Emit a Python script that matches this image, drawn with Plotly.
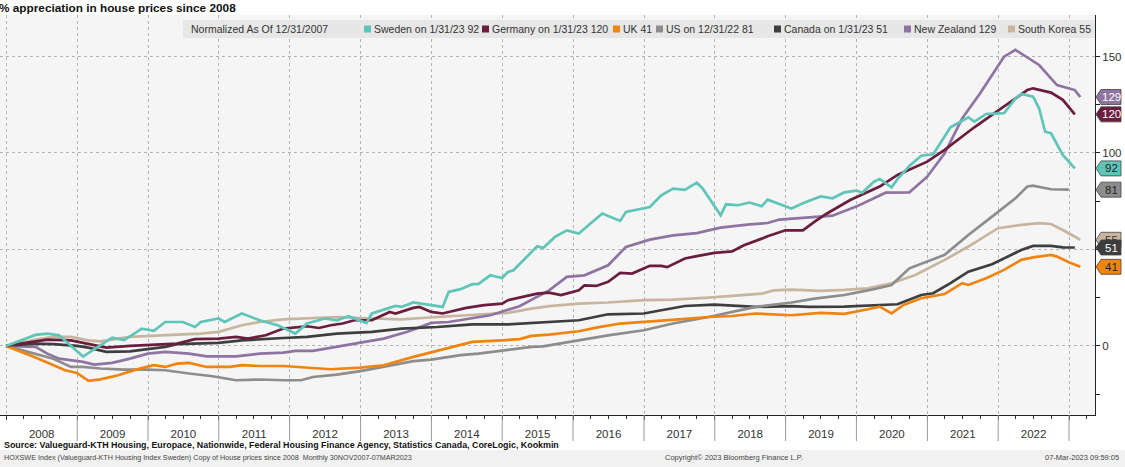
import pandas as pd
import plotly.graph_objects as go

# ---------------- data ----------------
sweden = [("2007-12",0),("2008-05",5.7),("2008-07",6.4),("2008-09",5.5),("2009-01",-5.5),("2009-06",4.3),
          ("2009-08",3.0),("2009-11",9.0),("2010-01",7.8),("2010-03",12.4),("2010-06",12.4),("2010-08",9.8),
          ("2010-09",12.4),("2010-12",14.2),("2011-01",12.4),("2011-04",16.8),("2011-07",13.3),("2011-10",10.7),
          ("2012-01",6.4),("2012-03",11.6),("2012-06",14.2),("2012-08",13.3),("2012-10",15.4),("2013-01",11.9),
          ("2013-02",16.8),("2013-06",20.7),("2013-07",20.2),("2013-09",22.5),("2014-02",20.2),("2014-03",28.0),
          ("2014-05",29.4),("2014-07",32.0),("2014-08",32.0),("2014-10",36.6),("2014-12",35.2),("2015-01",38.3),
          ("2015-02",39.2),("2015-04",45.3),("2015-06",51.6),("2015-07",50.8),("2015-09",56.5),("2015-11",59.9),
          ("2016-01",58.2),("2016-03",63.4),("2016-05",68.6),("2016-08",64.8),("2016-09",69.4),("2017-01",72.0),
          ("2017-03",78.0),("2017-05",81.5),("2017-07",80.9),("2017-09",84.6),("2017-10",81.5),("2018-01",67.7),
          ("2018-02",73.4),("2018-04",72.9),("2018-06",74.3),("2018-08",72.4),("2018-09",75.8),("2019-01",71.2),
          ("2019-03",73.9),("2019-06",77.5),("2019-08",76.5),("2019-10",79.6),("2019-12",80.5),("2020-01",79.4),
          ("2020-03",85.1),("2020-04",86.5),("2020-06",82.2),("2020-07",86.4),("2020-09",93.3),("2020-11",98.6),
          ("2021-01",99.3),("2021-04",113.3),("2021-07",118.5),("2021-08",116.2),("2021-10",120.2),("2022-01",120.6),
          ("2022-03",128.3),("2022-04",130.6),("2022-06",129.2),("2022-07",123.1),("2022-08",111.0),("2022-09",110.2),
          ("2022-11",99.0),("2023-01",92)]
germany = [("2007-12",0),("2008-05",2.4),("2008-07",3.3),("2008-11",2.9),("2009-02",1.2),("2009-05",-0.9),
           ("2009-09",0),("2010-01",0.7),("2010-05",1.2),("2010-08",3.5),("2010-12",3.8),("2011-03",4.7),
           ("2011-05",3.8),("2011-08",5.5),("2011-09",6.7),("2011-11",9.0),("2012-03",10.2),("2012-05",9.3),
           ("2012-07",10.7),("2012-09",11.6),("2012-11",13.3),("2013-02",13.3),("2013-05",17.6),("2013-06",16.8),
           ("2013-09",19.7),("2013-10",20.2),("2013-12",17.6),("2014-02",16.8),("2014-03",17.6),("2014-06",19.7),
           ("2014-09",21.1),("2014-12",21.9),("2015-01",23.7),("2015-04",25.7),("2015-06",27.1),("2015-08",27.6),
           ("2015-10",26.3),("2016-01",28.8),("2016-02",31.4),("2016-04",31.1),("2016-06",33.2),("2016-08",37.8),
           ("2016-10",37.5),("2017-01",41.5),("2017-03",41.5),("2017-04",40.8),("2017-07",45.3),("2017-09",46.5),
           ("2017-12",48.2),("2018-03",49.0),("2018-05",52.2),("2018-08",55.6),("2018-09",56.8),("2018-12",59.9),
           ("2019-03",59.9),("2019-05",64.4),("2019-07",68.5),("2019-11",75.6),("2020-04",82.6),("2020-07",88.6),
           ("2020-12",95.5),("2021-03",101.6),("2021-08",113.3),("2021-11",119.7),("2022-03",128.3),("2022-05",132.6),
           ("2022-06",133.5),("2022-09",131.3),("2022-11",127.5),("2023-01",120)]
uk = [("2007-12",0),("2008-05",-6.0),("2008-10",-12.6),("2008-12",-14.0),("2009-02",-18.1),("2009-04",-17.3),
      ("2009-07",-15.2),("2009-10",-12.3),("2010-01",-10.0),("2010-03",-10.9),("2010-05",-9.2),("2010-07",-8.8),
      ("2010-10",-10.9),("2011-02",-10.9),("2011-04",-10.0),("2011-07",-10.4),("2011-11",-10.4),("2012-02",-10.9),
      ("2012-07",-12.1),("2012-12",-11.2),("2013-04",-10.0),("2013-09",-5.7),("2014-01",-2.6),("2014-04",-0.5),
      ("2014-07",2.1),("2014-12",2.9),("2015-03",3.5),("2015-05",5.2),("2015-08",5.9),("2016-01",7.6),
      ("2016-04",9.5),("2016-08",11.6),("2016-12",12.4),("2017-03",13.3),("2017-06",13.8),("2017-11",15.0),
      ("2018-03",15.5),("2018-07",16.8),("2019-01",15.9),("2019-06",17.1),("2019-10",16.6),("2020-02",19.0),
      ("2020-04",20.4),("2020-06",16.9),("2020-08",21.2),("2020-11",24.7),("2021-03",26.9),("2021-06",32.5),
      ("2021-07",31.6),("2021-10",35.1),("2022-01",39.4),("2022-04",44.6),("2022-06",45.9),("2022-09",47.2),
      ("2022-10",46.3),("2022-12",43.4),("2023-02",41)]
us = [("2007-12",0),("2008-05",-4.0),("2008-08",-6.6),("2008-11",-10.9),("2009-01",-10.9),("2009-04",-11.7),
      ("2009-08",-12.3),("2009-12",-12.3),("2010-03",-12.6),("2010-07",-14.3),("2010-11",-15.7),("2011-03",-17.8),
      ("2011-07",-17.4),("2011-11",-17.8),("2012-02",-17.8),("2012-04",-16.1),("2012-08",-14.9),("2012-12",-13.1),
      ("2013-05",-10.4),("2013-09",-7.9),("2013-12",-7.1),("2014-05",-4.8),("2014-08",-4.0),("2015-01",-2.2),
      ("2015-05",-0.5),("2015-07",-0.2),("2016-01",2.9),("2016-06",5.5),("2016-12",8.1),("2017-05",11.6),
      ("2017-11",15.0),("2018-03",17.6),("2018-07",20.2),("2019-01",22.5),("2019-05",24.5),("2019-10",26.4),
      ("2020-03",29.4),("2020-06",31.6),("2020-09",40.2),("2021-03",47.2),("2021-07",57.5),("2021-11",67.0),
      ("2022-03",76.5),("2022-05",82.6),("2022-06",83.1),("2022-09",81.2),("2022-12",81)]
canada = [("2007-12",0),("2008-05",1.2),("2008-08",0.9),("2008-12",0),("2009-02",-0.9),("2009-05",-3.1),
          ("2009-09",-2.8),("2009-11",-1.9),("2010-03",-0.5),("2010-05",0.9),("2010-09",1.2),("2010-12",1.6),
          ("2011-04",2.9),("2011-07",3.5),("2011-11",4.1),("2012-03",4.7),("2012-08",6.4),("2013-02",7.3),
          ("2013-07",9.0),("2014-01",9.8),("2014-07",11.2),("2015-01",11.2),("2015-05",11.9),("2015-08",12.4),
          ("2016-01",13.3),("2016-06",16.4),("2016-12",16.8),("2017-03",18.5),("2017-07",20.7),("2017-12",21.4),
          ("2018-04",20.6),("2018-07",20.2),("2019-01",20.6),("2019-04",20.2),("2019-10",20.4),("2020-04",21.2),
          ("2020-07",21.6),("2020-11",26.4),("2021-01",27.3),("2021-04",32.5),("2021-07",38.5),("2021-11",42.3),
          ("2022-01",45.4),("2022-04",49.7),("2022-06",51.8),("2022-09",51.8),("2022-11",51.1),("2023-01",51)]
new_zealand = [("2007-12",0),("2008-05",-0.5),("2008-07",-4.0),("2008-09",-6.6),("2009-01",-8.3),("2009-03",-9.7),
               ("2009-06",-8.8),("2009-09",-6.6),("2009-12",-4.0),("2010-03",-3.1),("2010-07",-4.0),("2010-10",-5.4),
               ("2011-03",-5.4),("2011-07",-4.0),("2011-11",-3.5),("2012-01",-2.6),("2012-04",-2.6),("2012-08",-0.5),
               ("2013-01",2.1),("2013-04",3.8),("2013-08",7.3),("2013-12",11.9),("2014-03",12.4),("2014-07",14.5),
               ("2014-10",15.9),("2015-03",20.6),("2015-06",25.4),("2015-08",28.8),("2015-11",35.8),("2016-02",36.6),
               ("2016-06",41.8),("2016-09",51.3),("2017-01",55.1),("2017-05",57.3),("2017-09",58.5),("2018-01",61.3),
               ("2018-06",63.0),("2018-09",63.7),("2018-11",65.5),("2019-04",66.5),("2019-06",67.0),("2019-08",67.5),
               ("2019-12",72.2),("2020-05",79.4),("2020-09",79.6),("2020-12",87.7),("2021-03",99.8),("2021-06",118.0),
               ("2021-09",130.9),("2022-01",149.9),("2022-03",153.4),("2022-07",145.6),("2022-10",135.2),
               ("2023-01",132.6),("2023-02",129)]
south_korea = [("2007-12",0),("2008-05",3.3),("2008-08",4.7),("2008-11",4.7),("2009-02",2.9),("2009-04",2.4),
               ("2009-09",4.7),("2010-01",5.5),("2010-05",5.9),("2010-09",6.4),("2010-12",7.3),("2011-04",10.7),
               ("2011-07",12.4),("2011-11",13.8),("2012-03",14.5),("2012-08",15.0),("2013-02",14.2),("2013-07",13.8),
               ("2014-01",15.0),("2014-07",15.9),("2015-01",17.1),("2015-05",19.3),("2015-08",20.6),("2016-01",21.9),
               ("2016-06",22.5),("2016-12",23.7),("2017-05",24.0),("2017-11",25.0),("2018-04",26.3),("2018-08",27.1),
               ("2018-10",28.8),("2019-01",29.2),("2019-06",28.5),("2019-10",29.0),("2020-02",29.9),("2020-06",32.5),
               ("2020-10",36.8),("2021-03",44.6),("2021-07",51.5),("2021-12",61.0),("2022-04",62.7),("2022-07",63.6),
               ("2022-09",63.2),("2022-11",60.1),("2023-02",55)]

series_names = ["Sweden", "Germany", "UK", "US", "Canada", "New Zealand", "South Korea"]
legend_labels = ["Sweden on 1/31/23 92", "Germany on 1/31/23 120", "UK 41", "US on 12/31/22 81",
                 "Canada on 1/31/23 51", "New Zealand 129", "South Korea 55"]
series_data = [sweden, germany, uk, us, canada, new_zealand, south_korea]
colors = ["#5fc5b8", "#6b1d3d", "#f0840f", "#8d8d8d", "#3d3e3e", "#8f73a1", "#c8b5a0"]
tag_text_colors = ["#222222", "#ffffff", "#222222", "#222222", "#ffffff", "#ffffff", "#333333"]
years = list(range(2008, 2024))
y_tick_vals = [0, 50, 100, 150]
y_tick_text = ["0", "", "100", "150"]   # the 50 label is hidden behind the value tags in the reference

title_text = "% appreciation in house prices since 2008"
normalized_text = "Normalized As Of 12/31/2007"
source_text = ("Source: Valueguard-KTH Housing, Europace, Nationwide, Federal Housing Finance Agency, "
               "Statistics Canada, CoreLogic, Kookmin")
index_text = ("HOXSWE Index (Valueguard-KTH Housing Index Sweden) Copy of House prices since 2008  "
              "Monthly 30NOV2007-07MAR2023")
copyright_text = "Copyright\u00a9 2023 Bloomberg Finance L.P."
stamp_text = "07-Mar-2023 09:59:05"

# ---------------- layout geometry (pixels) ----------------
W, H = 1125, 467
PL, PR, PT, PB = 0, 1095, 15, 415
FONT = "Liberation Sans"


def px(xp):
    return (xp - PL) / (PR - PL)


def py(yp):
    return (PB - yp) / (PB - PT)


fig = go.Figure()
draw_order = [6, 5, 4, 3, 2, 1, 0]
for i in draw_order:
    d = series_data[i]
    dates = pd.to_datetime([a for a, _ in d]) + pd.offsets.MonthEnd(0)
    vals = [b for _, b in d]
    fig.add_trace(go.Scatter(x=dates, y=vals, mode="lines", name=series_names[i],
                             line=dict(color=colors[i], width=2.7), showlegend=False,
                             hoverinfo="skip"))

shapes = []
annotations = []

# year separators in the date strip
for y in years[1:]:
    shapes.append(dict(type="line", xref="x", yref="paper", x0=f"{y}-01-01", x1=f"{y}-01-01",
                       y0=0, y1=py(441), line=dict(color="#9a9a9a", width=1)))

# legend bar
shapes.append(dict(type="rect", xref="paper", yref="paper", x0=px(183), x1=px(1095), y0=py(38), y1=py(20),
                   fillcolor="#e7e7e7", line=dict(width=0), layer="above"))
LEG_SIZE = 10.5
annotations.append(dict(xref="paper", yref="paper", x=px(189), y=py(29), xanchor="left", yanchor="middle",
                        text=normalized_text, showarrow=False, font=dict(family=FONT, size=LEG_SIZE, color="#333")))
square_x = [364, 482, 613, 656, 774, 904, 1008]
for i, sx in enumerate(square_x):
    shapes.append(dict(type="rect", xref="paper", yref="paper", x0=px(sx), x1=px(sx + 7),
                       y0=py(32.5), y1=py(25.5), fillcolor=colors[i], line=dict(width=0), layer="above"))
    annotations.append(dict(xref="paper", yref="paper", x=px(sx + 8), y=py(29), xanchor="left",
                            yanchor="middle", text=legend_labels[i], showarrow=False,
                            font=dict(family=FONT, size=LEG_SIZE, color="#333")))

# value tags on the right
ppu = (PB - PT) / (171.5 + 35.8)  # pixels per data unit
hh = 7.5 / ppu
tag_order = [5, 1, 0, 3, 6, 4, 2]
for i in tag_order:
    v = series_data[i][-1][1]
    xt, xl, xr = px(1096), px(1101), px(1121)
    path = (f"M {xt},{v} L {xl},{v + hh} L {xr},{v + hh} L {xr},{v - hh} L {xl},{v - hh} Z")
    shapes.append(dict(type="path", xref="paper", yref="y", path=path, fillcolor=colors[i],
                       line=dict(color="#444", width=0.8), layer="above"))
    annotations.append(dict(xref="paper", yref="y", x=px(1111), y=v, xanchor="center", yanchor="middle",
                            text=f"{v:g}", showarrow=False,
                            font=dict(family=FONT, size=11.5, color=tag_text_colors[i])))

# title and footer
annotations.append(dict(xref="paper", yref="paper", x=px(-3), y=py(8), xanchor="left", yanchor="middle",
                        text=f"<b>{title_text}</b>", showarrow=False,
                        font=dict(family=FONT, size=11.8, color="#111")))
annotations.append(dict(xref="paper", yref="paper", x=px(2), y=py(445), xanchor="left", yanchor="middle",
                        text=f"<b>{source_text}</b>", showarrow=False,
                        font=dict(family=FONT, size=8.9, color="#111")))
annotations.append(dict(xref="paper", yref="paper", x=px(2), y=py(457), xanchor="left", yanchor="middle",
                        text=index_text, showarrow=False, font=dict(family=FONT, size=7.2, color="#444")))
annotations.append(dict(xref="paper", yref="paper", x=px(663), y=py(457), xanchor="left", yanchor="middle",
                        text=copyright_text, showarrow=False, font=dict(family=FONT, size=7.5, color="#444")))
annotations.append(dict(xref="paper", yref="paper", x=px(1121), y=py(457), xanchor="right", yanchor="middle",
                        text=stamp_text, showarrow=False, font=dict(family=FONT, size=7.5, color="#444")))

# footer background strip
shapes.append(dict(type="rect", xref="paper", yref="paper", x0=px(0), x1=px(1125), y0=py(467), y1=py(450),
                   fillcolor="#f1f1f1", line=dict(width=0), layer="below"))

fig.update_layout(
    width=W, height=H,
    margin=dict(l=PL, r=W - PR, t=PT, b=H - PB, pad=0),
    paper_bgcolor="white", plot_bgcolor="#f5f5f5",
    font=dict(family=FONT, size=11, color="#333"),
    shapes=shapes, annotations=annotations,
    xaxis=dict(type="date", range=["2007-11-30", "2023-05-15"],
               dtick="M12", tick0="2008-01-01", tickformat="%Y", ticklabelmode="period",
               showgrid=True, gridcolor="#b5b5b5", griddash="dot", gridwidth=1,
               showline=True, linecolor="#222", linewidth=1,
               ticks="outside", ticklen=4, tickcolor="#333", ticklabelstandoff=4,
               minor=dict(dtick="M3", ticks="outside", ticklen=3, tickcolor="#333", showgrid=False),
               tickfont=dict(family=FONT, size=11.5, color="#333"), zeroline=False, fixedrange=True),
    yaxis=dict(range=[-35.8, 171.5], side="right", tickvals=y_tick_vals, ticktext=y_tick_text,
               showgrid=True, gridcolor="#b5b5b5", griddash="dot", gridwidth=1,
               showline=True, linecolor="#222", linewidth=1, zeroline=False,
               ticks="outside", ticklen=4, tickcolor="#222",
               minor=dict(tickvals=[-25, 25, 75, 125], ticks="outside", ticklen=4, tickcolor="#222",
                          showgrid=False),
               tickfont=dict(family=FONT, size=11.5, color="#333"), fixedrange=True),
)

fig.write_html("out.html", config={"displayModeBar": False},
               post_script="document.body.style.margin='0px';")
